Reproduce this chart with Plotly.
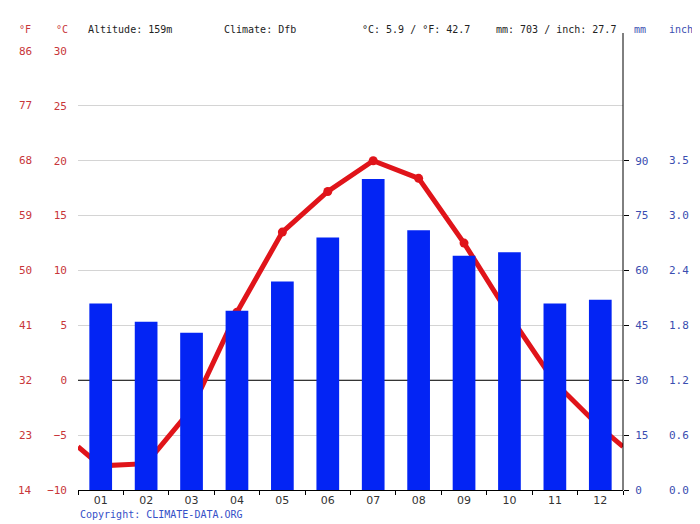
import plotly.graph_objects as go

months = ["01", "02", "03", "04", "05", "06", "07", "08", "09", "10", "11", "12"]
temp_c = [-7.8, -7.6, -2.6, 6.2, 13.5, 17.2, 20.0, 18.4, 12.5, 5.9, -0.2, -4.3]
precip_mm = [51, 46, 43, 49, 57, 69, 85, 71, 64, 65, 51, 52]

c_ticks = [-10, -5, 0, 5, 10, 15, 20, 25, 30]
f_labels = ["14", "23", "32", "41", "50", "59", "68", "77", "86"]
mm_ticks = [0, 15, 30, 45, 60, 75, 90]
inch_labels = ["0.0", "0.6", "1.2", "1.8", "2.4", "3.0", "3.5"]

header_left = "Altitude: 159m"
header_climate = "Climate: Dfb"
header_temp = "°C: 5.9 / °F: 42.7"
header_precip = "mm: 703 / inch: 27.7"
copyright_text = "Copyright: CLIMATE-DATA.ORG"

RED = "#e0141a"
RED_TXT = "#c8363a"
BLUE = "#0324f4"
BLUE_TXT = "#3a4db0"
FONT = "DejaVu Sans Mono"

x = list(range(1, 13))
# line continues to chart edges at the Dec/Jan midpoint
edge = (temp_c[0] + temp_c[-1]) / 2
line_x = [0.5] + x + [12.5]
line_y = [edge] + temp_c + [edge]

fig = go.Figure()
fig.add_trace(go.Bar(x=x, y=precip_mm, yaxis="y2", marker=dict(color=BLUE, line=dict(width=0)),
                     width=0.5, hoverinfo="skip"))
fig.add_trace(go.Scatter(x=[0.5, 12.5], y=[0, 0], mode="lines", line=dict(color="black", width=1),
                         hoverinfo="skip"))
fig.add_trace(go.Scatter(x=line_x, y=line_y, mode="lines", line=dict(color=RED, width=5),
                         hoverinfo="skip"))
fig.add_trace(go.Scatter(x=x, y=temp_c, mode="markers", marker=dict(color=RED, size=9),
                         hoverinfo="skip"))

# page body has an 8px margin, so the figure is 8px smaller and margins are shifted
fig.update_layout(
    width=692, height=516,
    margin=dict(l=70, r=77, t=43, b=34),
    paper_bgcolor="white", plot_bgcolor="white",
    showlegend=False,
    font=dict(family=FONT, size=11),
    xaxis=dict(range=[0.5, 12.5], tickvals=x, ticktext=months, ticks="", showgrid=False,
               showline=True, linecolor="black", linewidth=1, zeroline=False,
               tickfont=dict(color="#333", size=11, family="DejaVu Sans"),
               minor=dict(ticks="outside", tick0=0.5, dtick=1, ticklen=4, tickcolor="black")),
    yaxis=dict(range=[-10, 30], tickvals=c_ticks, ticks="", showgrid=True, gridcolor="#d4d4d4",
               zeroline=False, tickfont=dict(color=RED_TXT, size=11), ticklabelstandoff=10),
    yaxis2=dict(range=[0, 120], overlaying="y", side="right", tickvals=mm_ticks, showgrid=False,
                zeroline=False, ticks="outside", ticklen=5, tickcolor="black", showline=False,
                tickfont=dict(color=BLUE_TXT, size=11), ticklabelstandoff=4),
)

PW = 545
PH = 439
def px(v):
    return (v - 78) / PW
def py(v):
    return (490 - v) / PH

ann = []
for v, lab in zip(c_ticks, f_labels):
    ann.append(dict(x=px(25), xref="paper", y=v, yref="y", text=lab, showarrow=False,
                    xanchor="center", yanchor="middle", font=dict(color=RED_TXT, size=11)))
for v, lab in zip(mm_ticks, inch_labels):
    ann.append(dict(x=px(679), xref="paper", y=v, yref="y2", text=lab, showarrow=False,
                    xanchor="center", yanchor="middle", font=dict(color=BLUE_TXT, size=11)))

headers = [
    ("°F", 25, "center", RED_TXT),
    ("°C", 62, "center", RED_TXT),
    (header_left, 86, "left", "#222"),
    (header_climate, 222, "left", "#222"),
    (header_temp, 360, "left", "#222"),
    (header_precip, 494, "left", "#222"),
    ("mm", 640, "center", BLUE_TXT),
    ("inch", 681, "center", BLUE_TXT),
]
for t, xp, anc, col in headers:
    ann.append(dict(x=px(xp), xref="paper", y=py(30), yref="paper", text=t, showarrow=False,
                    xanchor=anc, yanchor="middle", font=dict(color=col, size=10)))
ann.append(dict(x=0, xref="paper", y=py(514), yref="paper", text=copyright_text,
                showarrow=False, xanchor="left", yanchor="middle",
                font=dict(color="#3550c8", size=10)))
fig.update_layout(annotations=ann)

fig.add_shape(type="line", xref="paper", yref="paper", x0=1, x1=1, y0=0, y1=py(33),
              line=dict(color="black", width=1))

fig.write_html("out.html")
